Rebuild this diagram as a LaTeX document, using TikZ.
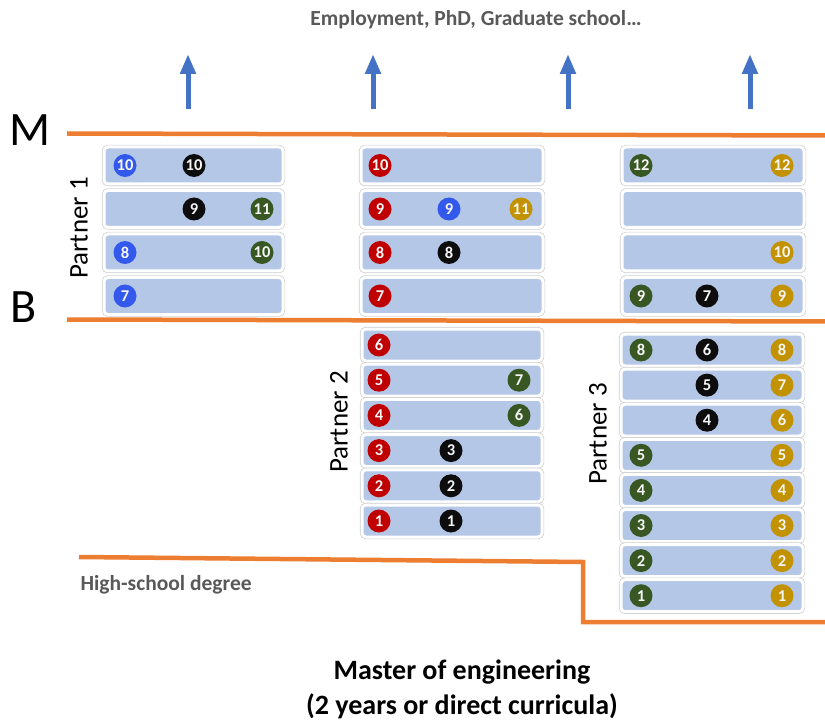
\documentclass[tikz,border=0pt]{standalone}
\usepackage{fontspec}
\setmainfont{Carlito}
\usetikzlibrary{arrows.meta}
\definecolor{boxblue}{HTML}{B4C7E7}
\definecolor{cred}{HTML}{C00000}
\definecolor{cblue}{HTML}{3358EC}
\definecolor{cblack}{HTML}{0D0D0D}
\definecolor{cgreen}{HTML}{385723}
\definecolor{cgold}{HTML}{C39200}
\definecolor{orangeline}{HTML}{ED7D31}
\definecolor{arrowblue}{HTML}{4472C4}
\definecolor{graytext}{HTML}{595959}
\begin{document}
\begin{tikzpicture}[x=1pt,y=-1pt,
  rowbox/.style={rounded corners=4pt, fill=boxblue, draw=white, line width=3pt,
    preaction={draw=gray!40, line width=4.4pt}, inner sep=0pt},
  num/.style={circle, minimum size=23pt, inner sep=0pt, text=white!92!gray,
    font=\bfseries\fontsize{16.5}{16.5}\selectfont},
  uparrow/.style={draw=arrowblue, line width=5pt, -{Triangle[width=15pt,length=20pt]}},
  oline/.style={draw=orangeline, line width=4.5pt},
  partner/.style={rotate=90, font=\fontsize{27}{27}\selectfont},
  graylabel/.style={text=graytext, font=\bfseries\fontsize{21.5}{21.5}\selectfont},
  bottomlabel/.style={font=\bfseries\fontsize{28}{28}\selectfont}
]
\useasboundingbox (0,0) rectangle (825,722);

% top text and arrows
\node[graylabel] (emp) at (476,20) {Employment, PhD, Graduate school…};
\foreach \i/\x in {1/188,2/373,3/568,4/750}{
  \coordinate (as\i) at (\x,109);
  \coordinate (ae\i) at (\x,54);
  \draw[uparrow] (as\i) -- (ae\i);
}

% M and B
\node[anchor=base west, inner sep=0pt, font=\fontsize{48}{48}\selectfont] (M) at (9,146) {M};
\node[anchor=base west, inner sep=0pt, font=\fontsize{48}{48}\selectfont] (B) at (10,322) {B};

% orange lines
\coordinate (mL) at (67,133.5); \coordinate (mR) at (826,135.5);
\coordinate (bL) at (67,319.5); \coordinate (bR) at (826,321.5);
\coordinate (hA) at (79,557); \coordinate (hB) at (583,562);
\coordinate (hC) at (583,622); \coordinate (hD) at (826,622);
\draw[oline] (mL) -- (mR);
\draw[oline] (bL) -- (bR);
\draw[oline] (hA) -- (hB) -- (hC) -- (hD);

% row boxes, top section
\foreach \c/\x/\w in {a/193.5/179, b/452/182, c/713/182}{
  \foreach \r/\y in {1/165.5,2/209,3/252.5,4/296}{
    \node[rowbox, minimum width=\w pt, minimum height=37pt] (top\c\r) at (\x,\y) {};
  }
}
% lower partner 2
\foreach \r/\y in {6/345,5/380.2,4/415.4,3/450.6,2/485.8,1/521}{
  \node[rowbox, minimum width=180pt, minimum height=32pt] (lowb\r) at (452,\y) {};
}
% lower partner 3
\foreach \r/\y in {8/350,7/385.1,6/420.2,5/455.3,4/490.4,3/525.5,2/560.6,1/595.7}{
  \node[rowbox, minimum width=182pt, minimum height=32pt] (lowc\r) at (712,\y) {};
}

% numbered circles
\foreach \x/\y/\col/\n [count=\i] in {
  125/165.5/cblue/10, 194/165.5/cblack/10,
  194/209/cblack/9, 262/209/cgreen/11,
  125/252.5/cblue/8, 262/252.5/cgreen/10,
  125/296/cblue/7,
  380/165.5/cred/10,
  380/209/cred/9, 449/209/cblue/9, 521/209/cgold/11,
  380/252.5/cred/8, 449/252.5/cblack/8,
  380/296/cred/7,
  641/165.5/cgreen/12, 782/165.5/cgold/12,
  782/252.5/cgold/10,
  641/296/cgreen/9, 707/296/cblack/7, 782/296/cgold/9,
  379/345/cred/6,
  379/380.2/cred/5, 519/380.2/cgreen/7,
  379/415.4/cred/4, 519/415.4/cgreen/6,
  379/450.6/cred/3, 451/450.6/cblack/3,
  379/485.8/cred/2, 451/485.8/cblack/2,
  379/521/cred/1, 451/521/cblack/1,
  641/350/cgreen/8, 707/350/cblack/6, 782/350/cgold/8,
  707/385.1/cblack/5, 782/385.1/cgold/7,
  707/420.2/cblack/4, 782/420.2/cgold/6,
  641/455.3/cgreen/5, 782/455.3/cgold/5,
  641/490.4/cgreen/4, 782/490.4/cgold/4,
  641/525.5/cgreen/3, 782/525.5/cgold/3,
  641/560.6/cgreen/2, 782/560.6/cgold/2,
  641/595.7/cgreen/1, 782/595.7/cgold/1}{
  \node[num, fill=\col] (n\i) at (\x,\y) {\n};
}

% partner labels
\node[partner] (p1) at (79,228) {Partner 1};
\node[partner] (p2) at (339,422) {Partner 2};
\node[partner] (p3) at (598,434) {Partner 3};

% bottom labels
\node[graylabel, anchor=west] (hs) at (77,585) {High-school degree};
\node[bottomlabel] (me1) at (462,672) {Master of engineering};
\node[bottomlabel] (me2) at (462,706) {(2 years or direct curricula)};
\end{tikzpicture}
\end{document}
